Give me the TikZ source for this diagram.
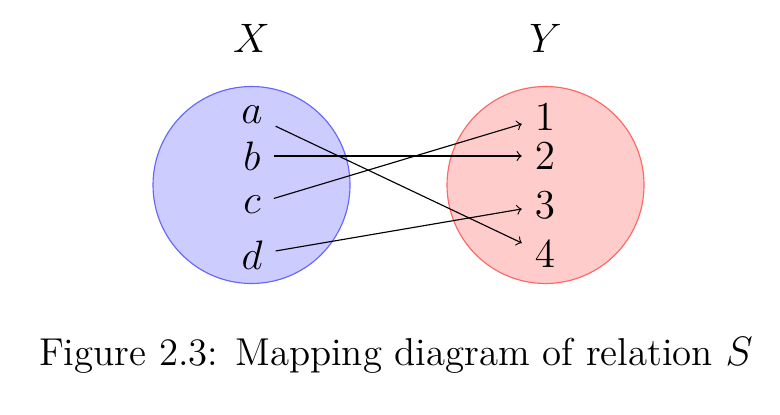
\documentclass[tikz,border=0pt]{standalone}
\begin{document}
\begin{tikzpicture}[x=0.35pt,y=-0.35pt,
  elem/.style={inner sep=4.4pt,font=\fontsize{13.6}{16}\selectfont},
  setlabel/.style={font=\fontsize{13.6}{16}\selectfont},
  setX/.style={draw=blue!60,fill=blue!20},
  setY/.style={draw=red!60,fill=red!20},
  map/.style={->}]
\useasboundingbox (0,0) rectangle (780,414);
\path[setX] (251.5,185) circle[radius=98.5*0.35pt];
\path[setY] (545.5,185) circle[radius=98.5*0.35pt];
\node[setlabel] (X) at (251.5,38) {$X$};
\node[setlabel] (Y) at (545.5,38) {$Y$};
\node[elem] (a) at (252,115) {$a$};
\node[elem] (b) at (252,156) {$b$};
\node[elem] (c) at (252,205) {$c$};
\node[elem] (d) at (252,255) {$d$};
\node[elem] (n1) at (545,117) {$1$};
\node[elem] (n2) at (545,156) {$2$};
\node[elem] (n3) at (545,205) {$3$};
\node[elem] (n4) at (545,254) {$4$};
\draw[map] (a) -- (n4);
\draw[map] (b) -- (n2);
\draw[map] (c) -- (n1);
\draw[map] (d) -- (n3);
\node[anchor=base,inner sep=0pt,font=\fontsize{13.6}{16}\selectfont] (cap) at (396,365) {Figure 2.3: Mapping diagram of relation $S$};
\end{tikzpicture}
\end{document}
